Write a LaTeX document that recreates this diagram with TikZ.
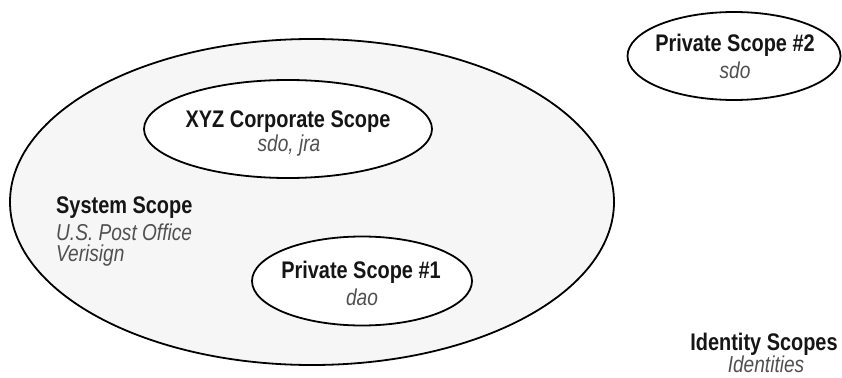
\documentclass[tikz,border=0pt]{standalone}
\usepackage{fontspec}
\setmainfont{Liberation Sans}[FakeStretch=0.83]
\usetikzlibrary{shapes.geometric}
\definecolor{scopefill}{HTML}{F6F6F6}
\definecolor{idgray}{HTML}{505050}
\definecolor{titleblack}{HTML}{151515}
\tikzset{
  scopeshape/.style={ellipse, draw=black, line width=1.8pt, inner sep=0pt},
  title/.style={font=\fontsize{24}{26}\selectfont\bfseries, text=titleblack, inner sep=0pt},
  ident/.style={font=\fontsize{23}{26}\selectfont\itshape, text=idgray, inner sep=0pt},
}
\begin{document}
\begin{tikzpicture}[x=1pt,y=-1pt]
\useasboundingbox (0,0) rectangle (842,377);
% outer system scope
\node[scopeshape, fill=scopefill, minimum width=604pt, minimum height=326pt] (sys) at (312,202) {};
% XYZ corporate scope
\node[scopeshape, fill=white, minimum width=288pt, minimum height=98pt] (xyz) at (288,129) {};
\node[title] (xyzt) at (288,122) {XYZ Corporate Scope};
\node[ident] (xyzi) at (289,146) {sdo, jra};
% system scope labels
\node[title, anchor=west] (syst) at (56,208) {System Scope};
\node[ident, anchor=west] (sysi1) at (56,232) {U.S. Post Office};
\node[ident, anchor=west] (sysi2) at (56,256) {Verisign};
% private scope 1
\node[scopeshape, fill=white, minimum width=220pt, minimum height=89pt] (p1) at (362,281) {};
\node[title] (p1t) at (361,272) {Private Scope \#1};
\node[ident] (p1i) at (362,297) {dao};
% private scope 2
\node[scopeshape, fill=white, minimum width=213pt, minimum height=88pt] (p2) at (734,56) {};
\node[title] (p2t) at (735,45) {Private Scope \#2};
\node[ident] (p2i) at (735,70) {sdo};
% legend
\node[title] (leg) at (764,344) {Identity Scopes};
\node[ident] (legi) at (766,364) {Identities};
\end{tikzpicture}
\end{document}
